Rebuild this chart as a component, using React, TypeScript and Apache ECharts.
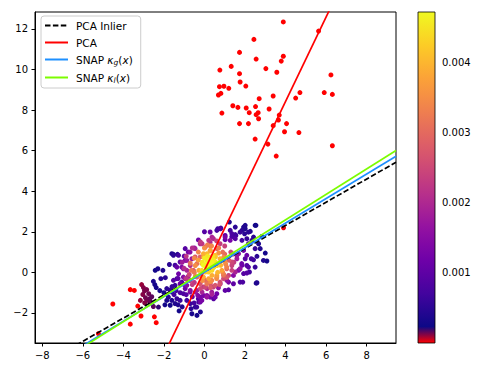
import React, { useEffect, useRef } from 'react';
import * as echarts from 'echarts';

const xTicks = [-8, -6, -4, -2, 0, 2, 4, 6, 8];
const yTicks = [-2, 0, 2, 4, 6, 8, 10, 12];
const cbTicks = [0.001, 0.002, 0.003, 0.004];
const xRange = [-8.36, 9.45];
const yRange = [-3.48, 12.83];
const scoreRange = [0, 0.00472];

const lineNames = ['PCA Inlier', 'PCA', 'SNAP κg(x)', 'SNAP κl(x)'];
const lineSlopes = [0.571, 2.08, 0.604, 0.627];
const lineIntercepts = [0.03, 0.1, 0.01, 0.08];
const lineColors = ['#000000', '#ff0000', '#1e90ff', '#7cfc00'];

// outliers: [x, y] (score 0)
const outliers: number[][] = [
  [3.89, 12.34], [5.63, 11.89], [2.44, 11.48], [1.73, 10.84], [3.89, 10.65], [2.55, 10.51],
  [3.79, 10.41], [1.32, 10.15], [0.76, 9.97], [3.03, 10.04], [3.57, 9.86], [1.73, 9.79],
  [6.24, 9.73], [1.76, 9.38], [2.04, 9.18], [0.74, 9.15], [0.96, 9.17], [1.2, 9.07],
  [0.81, 8.82], [0.69, 8.74], [4.71, 8.86], [5.91, 8.86], [6.31, 8.77], [4.5, 8.59],
  [2.7, 8.56], [3.39, 8.69], [1.4, 8.21], [1.65, 8.13], [2.06, 8.1], [2.52, 8.17],
  [3.19, 8.05], [0.86, 7.85], [2.21, 7.87], [2.65, 7.87], [2.55, 7.77], [3.69, 7.75],
  [2.67, 7.57], [3.65, 7.51], [1.73, 7.33], [2.17, 7.33], [4.05, 7.33], [3.39, 7.23],
  [3.95, 6.93], [4.66, 6.89], [2.5, 6.57], [3.13, 6.32], [6.31, 6.24], [3.54, 5.73],
];

// inliers: [x, y, score]
const inliers: number[][] = [
  // tail, near zero
  [-3.66, -0.85, 0], [-3.46, -0.89, 0], [-4.52, -1.56, 0], [-3.29, -1.66, 0], [-3.13, -2.15, 0],
  [-3.66, -2.55, 0], [-2.47, -2.19, 0], [-2.38, -2.48, 0], [-5.23, -3.02, 0], [3.9, 2.2, 0.00002],
  [-3.01, -0.75, 0.00012], [-2.96, -0.91, 0.00013], [-3.04, -1.09, 0.00012], [-2.91, -1.25, 0.00014],
  [-2.83, -1.38, 0.00013], [-2.67, -1.46, 0.00015], [-3.16, -1.38, 0.00011], [-2.52, -1.68, 0.00016],
  [-2.27, -1.71, 0.0002], [-2.75, -1.05, 0.00014], [-3.1, -0.6, 0.0001], [-2.6, -1.2, 0.00016],
  [-2.85, -0.85, 0.00013], [-2.7, -1.3, 0.00015], [-2.95, -1.5, 0.00012],
  // left periphery
  [-2.52, -0.44, 0.00035], [-2.38, -0.75, 0.0003], [-2.45, -0.6, 0.0003], [-2.3, 0.18, 0.00035],
  [-2.05, 0.1, 0.0004], [-1.73, 0.39, 0.0005], [-2.15, -0.31, 0.00045], [-1.93, -0.26, 0.0005],
  [-1.53, 0.89, 0.0004], [-1.33, 0.89, 0.00045], [-1.86, -0.8, 0.0005], [-1.69, -0.87, 0.00055],
  [-1.78, -1.22, 0.00045], [-1.61, -1.38, 0.0004], [-1.86, -1.38, 0.00035], [-1.69, -1.62, 0.0003],
  [-1.45, -1.54, 0.0004], [-1.36, -1.3, 0.0006], [-1.2, -1.38, 0.0006], [-1.04, -1.05, 0.0008],
  [-0.87, -1.38, 0.0007], [-0.62, -2.04, 0.00035], [-0.45, -1.71, 0.0005], [-0.28, -1.46, 0.0007],
  [-0.2, -1.95, 0.0004], [-0.7, -1.54, 0.0006], [-0.51, -1.51, 0.0007], [-0.38, -1.71, 0.0006],
  [-0.66, -1.79, 0.0005], [-0.3, -1.3, 0.0009], [-2.0, -1.0, 0.0003], [-1.5, -1.1, 0.0007],
  [-1.1, -1.7, 0.0004], [-1.3, -1.6, 0.0004], [-2.43, 0.1, 0.0003], [-1.61, 0.92, 0.0004],
  [-0.37, -2.12, 0.0003], [-1.61, -0.97, 0.0004], [-1.45, -0.64, 0.0006], [-1.36, -0.31, 0.0008],
  [-1.12, -0.48, 0.0009], [-1.53, 0.84, 0.0005], [-1.28, 0.84, 0.0007], [-1.45, 0.35, 0.0007],
  [-1.6, -0.7, 0.0006], [-1.4, -0.9, 0.0007], [-1.2, -1.0, 0.0008], [-0.9, -1.1, 0.0009],
  [-0.6, -1.2, 0.0011], [-2.2, -0.9, 0.0003], [-1.95, -1.6, 0.0003], [-1.25, -1.9, 0.0003],
  // right periphery
  [1.23, 2.48, 0.0004], [0.81, 2.18, 0.0006], [1.93, 2.23, 0.0004], [2.54, 2.32, 0.0003],
  [1.55, 1.82, 0.0007], [1.98, 1.9, 0.0005], [2.26, 2.02, 0.0004], [2.83, 1.77, 0.0003],
  [1.02, 1.61, 0.0011], [1.35, 1.76, 0.0008], [2.67, 1.41, 0.0004], [2.75, 1.17, 0.0004],
  [3.0, 0.95, 0.0003], [2.59, 0.79, 0.0005], [3.08, 0.56, 0.0003], [2.31, 0.67, 0.0007],
  [2.09, 0.34, 0.0009], [2.5, 0.26, 0.0006], [2.22, 0.02, 0.0007], [1.93, -0.06, 0.0009],
  [2.59, -0.51, 0.0004], [1.76, -0.48, 0.0008], [1.43, -0.56, 0.001], [1.1, -0.39, 0.0016],
  [0.69, -0.76, 0.0017], [1.02, -0.89, 0.001], [0.61, -1.05, 0.0012], [0.28, -1.22, 0.0012],
  [-0.05, -1.14, 0.0013], [0.45, -1.3, 0.0009], [1.19, -0.86, 0.0009], [0.66, 2.15, 0.0007],
  [2.42, 1.74, 0.0005], [2.17, 1.98, 0.0005], [1.76, 1.98, 0.0006], [1.52, 1.86, 0.0007],
  [2.5, 1.17, 0.0006], [2.42, 0.62, 0.0007], [2.17, 0.26, 0.0009], [1.84, 0.43, 0.0012],
  [2.09, -0.03, 0.0009], [1.89, -0.48, 0.0008], [2.55, -0.53, 0.0004], [2.91, 0.59, 0.0004],
  [0.61, 2.07, 0.0007], [2.01, 2.32, 0.0004], [2.5, 2.32, 0.0003], [0.28, 1.49, 0.002],
  [0.78, 2.15, 0.0008], [1.27, 2.07, 0.0007], [1.52, 2.23, 0.0005], [1.85, 2.07, 0.0005],
  [2.01, 2.15, 0.0004], [1.52, 1.66, 0.0009], [1.85, 1.58, 0.0007], [2.09, 1.66, 0.0006],
  [1.35, 1.91, 0.0008], [1.02, 1.82, 0.001], [0.28, 1.99, 0.0011], [1.19, -0.48, 0.0013],
  [1.43, -0.15, 0.0015], [1.68, 0.1, 0.0013], [1.85, 0.35, 0.0011], [2.01, 0.67, 0.0009],
  [0.53, -1.22, 0.0012], [0.12, -1.14, 0.0015], [-0.21, -1.22, 0.0013],
  // purple
  [-1.28, -0.07, 0.0012], [-1.04, -0.23, 0.0015], [-1.53, -0.39, 0.0009], [-1.2, -0.56, 0.0012],
  [-0.87, -0.64, 0.0015], [-0.95, -0.31, 0.0018], [-0.7, -0.89, 0.0015], [-0.45, -0.97, 0.0017],
  [-1.36, 0.26, 0.0011], [-1.12, 0.26, 0.0014], [-0.87, 0.1, 0.0019], [-0.7, 0.34, 0.0021],
  [-1.2, 0.51, 0.001], [-0.95, 0.59, 0.0013], [-0.62, 0.67, 0.0018], [-0.33, -1.13, 0.0014],
  [-0.12, -0.97, 0.0019], [0.13, -0.8, 0.0021], [0.29, -0.56, 0.0027], [0.04, -0.39, 0.003],
  [1.93, 1.08, 0.0012], [1.68, 0.92, 0.0016], [2.09, 0.84, 0.0011], [1.6, 0.67, 0.0018],
  [1.35, 0.34, 0.0024], [1.76, 0.18, 0.0016], [1.52, 0.02, 0.0019], [1.19, -0.15, 0.0024],
  [0.94, -0.31, 0.0025], [1.27, 1.58, 0.0013], [1.02, 1.74, 0.0013], [0.77, 1.41, 0.0023],
  [0.44, 1.66, 0.002], [0.61, 1.17, 0.003], [2.17, 1.41, 0.0008], [2.34, 1.58, 0.0006],
  [-0.5, 1.2, 0.0014], [-0.3, 1.6, 0.0012], [0.0, 2.0, 0.0009], [-0.8, 1.0, 0.0012],
  [-1.0, 0.8, 0.001], [-0.95, 1.17, 0.0009], [-1.04, 0.18, 0.0016], [-0.87, 0.59, 0.0017],
  [-0.71, 1.0, 0.0015], [-0.46, 1.17, 0.0019], [-0.21, 1.41, 0.002], [-0.95, -0.8, 0.0011],
  [-0.71, -0.97, 0.0013], [-0.38, -0.89, 0.0018], [-0.05, -0.72, 0.0023], [0.44, -0.72, 0.0024],
  [0.78, -0.56, 0.002], [1.6, 0.84, 0.0017], [0.36, -0.97, 0.0018], [-1.0, -0.6, 0.0013],
  [-1.3, -0.3, 0.001], [-0.5, -0.5, 0.0022], [-0.8, -0.2, 0.0019],
  // magenta / salmon
  [-0.54, 0.1, 0.0027], [-0.37, 0.43, 0.0031], [-0.21, 0.76, 0.0029], [-0.12, 1.41, 0.0022],
  [0.04, 1.25, 0.0027], [0.21, 1.58, 0.0022], [0.37, 1.74, 0.0019], [-0.37, -0.23, 0.0029],
  [-0.21, -0.56, 0.0027], [0.04, -0.72, 0.0025], [0.36, -1.08, 0.0019], [0.12, -1.22, 0.0017],
  [-0.13, -1.38, 0.0013], [-0.21, -1.46, 0.0012], [0.77, -0.48, 0.0026], [0.53, -0.64, 0.0027],
  [1.0, 0.9, 0.003], [1.2, 0.6, 0.0028], [0.9, 1.0, 0.0031], [-0.7, -0.4, 0.0024],
  [1.4, 0.9, 0.0023], [0.3, 1.3, 0.0033], [-0.46, 0.76, 0.0027], [0.2, -0.48, 0.0029],
  [1.35, 0.51, 0.0025], [1.1, 0.18, 0.003], [0.94, -0.15, 0.003], [-0.9, 0.8, 0.0022],
  [-0.6, 1.2, 0.0021], [-0.2, 1.5, 0.0023], [0.6, 1.55, 0.0024], [1.0, 1.3, 0.0024],
  [1.3, 1.0, 0.0025], [1.45, 0.5, 0.0023], [1.35, 0.1, 0.0024], [1.1, -0.25, 0.0027],
  [0.75, -0.6, 0.0027], [0.3, -0.75, 0.0028], [-0.2, -0.8, 0.0025], [-0.6, -0.6, 0.0023],
  [-0.9, -0.3, 0.0022], [-1.0, 0.2, 0.0021], [-1.1, 0.5, 0.0018], [-0.75, -0.1, 0.0025],
  // orange
  [-0.45, 0.34, 0.0035], [-0.28, 0.1, 0.0038], [-0.12, 0.43, 0.0041], [-0.04, 0.76, 0.0039],
  [0.13, 0.92, 0.004], [0.29, 1.08, 0.0037], [-0.21, -0.15, 0.0037], [0.04, 0.02, 0.0042],
  [0.21, -0.31, 0.0038], [0.37, -0.15, 0.0039], [0.46, 0.26, 0.0044], [0.54, 0.76, 0.0042],
  [0.28, 1.06, 0.0038], [0.53, 0.84, 0.0041], [0.77, 0.67, 0.0039], [1.02, 0.51, 0.0035],
  [1.1, 0.26, 0.0033], [0.86, 0.1, 0.0038], [0.61, -0.15, 0.0037], [0.36, -0.39, 0.0034],
  [0.12, -0.56, 0.0032], [-0.05, -0.23, 0.0039], [0.2, 0.02, 0.0043], [0.44, 0.24, 0.0044],
  [0.12, 0.59, 0.0046], [-0.05, 0.92, 0.0039], [0.8, 0.35, 0.004], [0.65, 0.0, 0.004],
  [-0.3, 0.6, 0.0037], [0.7, 0.95, 0.0036], [-0.5, 0.0, 0.0032], [0.95, -0.1, 0.0032],
  [0.61, -0.23, 0.0035], [-0.5, 0.7, 0.0034], [-0.3, 1.0, 0.0034], [0.0, 1.2, 0.0035],
  [0.35, 1.3, 0.0034], [0.7, 1.2, 0.0033], [0.95, 0.75, 0.0035], [1.05, 0.4, 0.0034],
  [0.9, 0.0, 0.0034], [0.6, -0.3, 0.0035], [0.3, -0.45, 0.0035], [-0.1, -0.4, 0.0035],
  [-0.45, -0.2, 0.0033], [-0.65, 0.1, 0.0032], [-0.7, 0.45, 0.0031], [0.15, 1.35, 0.0033],
  // yellow core
  [0.29, 0.43, 0.0047], [0.54, 0.51, 0.0045], [0.62, 0.34, 0.0043], [0.37, 0.1, 0.0044],
  [0.03, 0.34, 0.0046], [0.36, 0.51, 0.0047], [-0.13, 0.1, 0.0043], [0.61, 0.43, 0.0044],
  [0.2, 0.3, 0.0047], [0.45, 0.6, 0.0046], [-0.1, 0.5, 0.0045], [0.0, 0.7, 0.0046],
  [0.15, 0.8, 0.0045], [0.3, 0.75, 0.0046], [0.1, 0.2, 0.0046], [-0.05, 0.35, 0.0047],
  [0.25, 0.6, 0.0047], [0.45, 0.35, 0.0046], [0.15, 0.45, 0.0047], [0.4, 0.8, 0.0045],
];

const plasmaStops = ['#0d0887', '#41049d', '#6a00a8', '#8f0da4', '#b12a90', '#cc4778',
  '#e16462', '#f2844b', '#fca636', '#fcce25', '#f0f921'];
const outlierColor = '#ff0000';

function hexToRgb(h: string) {
  return [parseInt(h.slice(1, 3), 16), parseInt(h.slice(3, 5), 16), parseInt(h.slice(5, 7), 16)];
}
function resample(stops: string[], n: number) {
  const out: string[] = [];
  for (let i = 0; i < n; i++) {
    const t = (i / (n - 1)) * (stops.length - 1);
    const k = Math.min(Math.floor(t), stops.length - 2);
    const f = t - k;
    const a = hexToRgb(stops[k]);
    const b = hexToRgb(stops[k + 1]);
    const c = a.map((v, j) => Math.round(v + (b[j] - v) * f));
    out.push(`rgb(${c[0]},${c[1]},${c[2]})`);
  }
  return out;
}
const cmap = [outlierColor, ...resample(plasmaStops, 20)];

const minus = (v: number) => (v < 0 ? '\u2212' + Math.abs(v) : String(v));

export default function App() {
  const ref = useRef<HTMLDivElement>(null);
  useEffect(() => {
    document.body.style.margin = '0';
    if (!ref.current) return;
    const chart = echarts.init(ref.current, undefined, { renderer: 'svg' });
    const points = [
      ...outliers.map((p) => [p[0], p[1], 0]),
      ...inliers,
    ].sort((a, b) => a[2] - b[2]);

    const font = 'DejaVu Sans';
    const lineSeries = lineNames.map((name, i) => ({
      name,
      type: 'line',
      xAxisIndex: 0,
      yAxisIndex: 0,
      data: xRange.map((x) => [x, lineSlopes[i] * x + lineIntercepts[i]]),
      symbol: 'none',
      showSymbol: false,
      clip: true,
      z: 5 + i,
      silent: true,
      lineStyle: {
        color: lineColors[i],
        width: 1.7,
        type: i === 0 ? [5.5, 2.4] : 'solid',
      },
      itemStyle: { color: lineColors[i] },
    }));

    const gradStops = cmap.map((c, i) => ({ offset: i / (cmap.length - 1), color: c }));

    chart.setOption({
      animation: false,
      textStyle: { fontFamily: font },
      grid: [
        { left: 35, top: 12, width: 361, height: 331, show: true, borderColor: '#000', borderWidth: 1, backgroundColor: 'transparent' },
        { left: 418, top: 12, width: 17, height: 331, show: false },
      ],
      xAxis: [
        {
          gridIndex: 0, type: 'value', min: xRange[0], max: xRange[1],
          axisLine: { show: true, onZero: false, lineStyle: { color: '#000', width: 1 } },
          axisTick: { show: true, customValues: xTicks, length: 3.5, lineStyle: { color: '#000' } },
          axisLabel: { customValues: xTicks, formatter: minus, color: '#000', fontSize: 10, fontFamily: font, margin: 7 },
          splitLine: { show: false },
        },
        { gridIndex: 1, type: 'value', min: 0, max: 1, show: false },
      ],
      yAxis: [
        {
          gridIndex: 0, type: 'value', min: yRange[0], max: yRange[1],
          axisLine: { show: true, onZero: false, lineStyle: { color: '#000', width: 1 } },
          axisTick: { show: true, customValues: yTicks, length: 3.5, lineStyle: { color: '#000' } },
          axisLabel: { customValues: yTicks, formatter: minus, color: '#000', fontSize: 10, fontFamily: font, margin: 7 },
          splitLine: { show: false },
        },
        {
          gridIndex: 1, type: 'value', position: 'right', min: scoreRange[0], max: scoreRange[1],
          axisLine: { show: false },
          axisTick: { show: true, customValues: cbTicks, length: 3.5, lineStyle: { color: '#000' } },
          axisLabel: { customValues: cbTicks, formatter: (v: number) => v.toFixed(3), color: '#000', fontSize: 10, fontFamily: font, margin: 7 },
          splitLine: { show: false },
        },
      ],
      visualMap: {
        type: 'continuous', show: false, seriesIndex: 0, dimension: 2,
        min: scoreRange[0], max: scoreRange[1], inRange: { color: cmap },
      },
      legend: {
        left: 41, top: 16, orient: 'vertical',
        data: lineNames,
        itemWidth: 23, itemHeight: 10, itemGap: 6,
        padding: [4, 8, 4, 3],
        backgroundColor: 'rgba(255,255,255,0.85)',
        borderColor: '#cccccc', borderWidth: 1, borderRadius: 3,
        selectedMode: false,
        itemStyle: { opacity: 0 },
        textStyle: {
          fontSize: 10.5, fontFamily: font, color: '#000', padding: [0, 0, 0, 3],
          rich: {
            t: { fontSize: 10.5, fontFamily: font, color: '#000' },
            m: { fontSize: 10.5, fontFamily: font, fontStyle: 'italic', color: '#000' },
            s: { fontSize: 7.5, fontFamily: font, fontStyle: 'italic', color: '#000', padding: [5, 0, 0, 0] },
          },
        },
        formatter: (name: string) => {
          const m = name.match(/^SNAP κ(.)\(x\)$/);
          if (m) return `{t|SNAP }{m|κ}{s|${m[1]}}{t|(}{m|x}{t|)}`;
          return `{t|${name}}`;
        },
      },
      series: [
        {
          type: 'scatter', xAxisIndex: 0, yAxisIndex: 0,
          data: points, symbolSize: 5, z: 2, silent: true,
          itemStyle: { opacity: 1 },
        },
        ...lineSeries,
        {
          type: 'custom', xAxisIndex: 1, yAxisIndex: 1, data: [[0, 0]], silent: true,
          renderItem: (_params: any, api: any) => {
            const p0 = api.coord([0, scoreRange[0]]);
            const p1 = api.coord([1, scoreRange[1]]);
            return {
              type: 'rect',
              shape: { x: p0[0], y: p1[1], width: p1[0] - p0[0], height: p0[1] - p1[1] },
              style: {
                fill: new echarts.graphic.LinearGradient(0, 1, 0, 0, gradStops),
                stroke: '#000', lineWidth: 0.8,
              },
            };
          },
        },
      ],
    });
    return () => chart.dispose();
  }, []);
  return <div ref={ref} style={{ width: 498, height: 374 }} />;
}
